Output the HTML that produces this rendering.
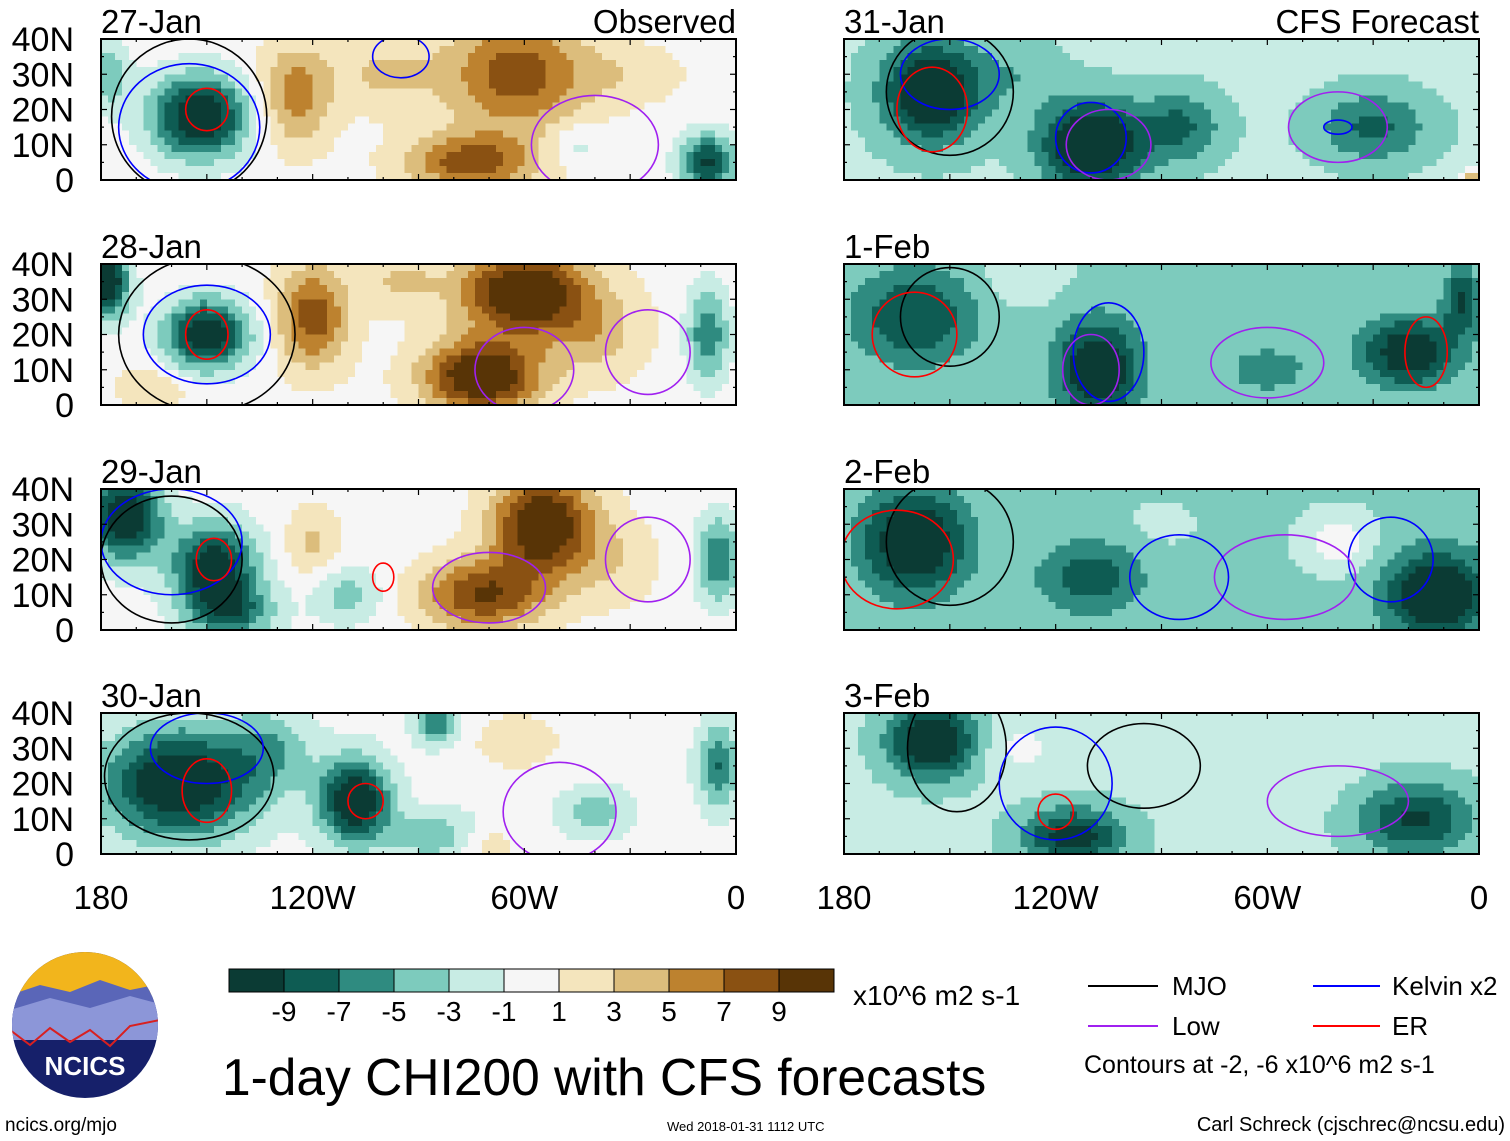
<!DOCTYPE html>
<html><head><meta charset="utf-8">
<style>
body{margin:0;background:#fff;}
svg{display:block;font-family:"Liberation Sans",sans-serif;}
</style></head>
<body>
<svg id="fig" width="1510" height="1141" viewBox="0 0 1510 1141">
<g id="panels"></g>
<g id="bottom">
  <g>
    <defs><clipPath id="lc"><circle cx="85" cy="1025" r="73"/></clipPath></defs>
    <circle cx="85" cy="1025" r="73" fill="#16206a"/>
    <g clip-path="url(#lc)">
      <rect x="10" y="950" width="150" height="45" fill="#f2b51c"/>
      <path d="M10 995 L40 985 L70 992 L100 980 L130 990 L160 984 L160 1030 L10 1030Z" fill="#5a66b8"/>
      <path d="M10 1010 L50 998 L90 1008 L130 996 L160 1004 L160 1040 L10 1040Z" fill="#8c96d8"/>
      <path d="M10 1030 L30 1045 L50 1028 L70 1042 L90 1030 L110 1046 L130 1026 L160 1020" fill="none" stroke="#d82020" stroke-width="2"/>
    </g>
    <text x="85" y="1075" font-size="26" font-weight="bold" fill="#fff" text-anchor="middle">NCICS</text>
  </g>
  <text x="5" y="1131" font-size="19">ncics.org/mjo</text>
  <g id="cbar"></g>
  <text x="853" y="1005" font-size="28">x10^6 m2 s-1</text>
  <text x="222" y="1095" font-size="51.5">1-day CHI200 with CFS forecasts</text>
  <g>
    <line x1="1088" y1="986" x2="1158" y2="986" stroke="#000" stroke-width="2"/>
    <text x="1172" y="995" font-size="26">MJO</text>
    <line x1="1313" y1="986" x2="1380" y2="986" stroke="#0000ff" stroke-width="2"/>
    <text x="1392" y="995" font-size="26">Kelvin x2</text>
    <line x1="1088" y1="1026" x2="1158" y2="1026" stroke="#a020f0" stroke-width="2"/>
    <text x="1172" y="1035" font-size="26">Low</text>
    <line x1="1313" y1="1026" x2="1380" y2="1026" stroke="#ff0000" stroke-width="2"/>
    <text x="1392" y="1035" font-size="26">ER</text>
    <text x="1084" y="1073" font-size="25">Contours at -2, -6 x10^6 m2 s-1</text>
  </g>
  <text x="667" y="1131" font-size="13">Wed 2018-01-31 1112 UTC</text>
  <text x="1505" y="1131" font-size="20" text-anchor="end">Carl Schreck (cjschrec@ncsu.edu)</text>
</g>
</svg>
<script>
const levels = [-9,-7,-5,-3,-1,1,3,5,7,9];
const colors = ["#0b3b34","#0e5c53","#2f8b80","#7dcbbd","#c8ece4","#f6f6f6","#f4e5bd","#dcbd7c","#bd822f","#8a5112","#583406"];
const panelDates = ["27-Jan","28-Jan","29-Jan","30-Jan","31-Jan","1-Feb","2-Feb","3-Feb"];
const baselines = [0.3,0.3,0,0,-2.5,-3,-3.5,-2.5];
// blobs: [lonW, latN, amplitude, radiusLon, radiusLat]
const blobs0 = [[152,18,-12,14,12],[178,30,-5,6,10],[125,24,6,10,14],[62,30,8,20,16],[75,5,8,18,8],[100,30,3,15,10],[8,5,-10,8,8],[45,10,-2.5,8,6],[30,30,2,15,8]];
const blobs1 = [[178,35,-12,6,10],[150,20,-12,12,10],[120,25,8,10,14],[60,32,12,18,12],[72,8,12,16,10],[40,20,3.5,14,12],[8,20,-7,6,14],[165,5,2.5,10,6],[95,35,3,10,8]];
const blobs2 = [[173,32,-12,10,12],[148,18,-11,12,12],[143,5,-7,12,8],[55,30,12,14,14],[72,10,9,18,10],[120,25,3.5,8,10],[5,20,-7,6,12],[110,10,-4,10,8],[35,20,2.5,14,14]];
const blobs3 = [[158,20,-12,22,16],[108,15,-12,10,12],[85,5,-5,12,7],[72,3,2.5,10,5],[62,32,2.5,12,8],[85,37,-7,6,6],[40,12,-4.5,10,7],[5,25,-7,6,12],[132,30,-4,12,12]];
const blobs4 = [[155,25,-10,14,14],[110,10,-11,14,12],[85,15,-5,12,10],[30,15,-5,16,10],[2,0,8,3,3],[130,30,-2,12,10]];
const blobs5 = [[160,25,-6,18,14],[108,10,-9,12,14],[20,15,-8,14,10],[60,10,-3,14,8],[5,30,-6,5,10],[130,35,2,10,6]];
const blobs6 = [[160,25,-9,14,14],[110,15,-5,14,10],[12,10,-9,14,12],[40,25,4,10,8],[90,30,1,12,8]];
const blobs7 = [[155,32,-10,12,10],[115,5,-8,14,8],[18,10,-7,16,10],[130,30,2,12,8],[50,25,1,12,10]];
const allBlobs = [blobs0,blobs1,blobs2,blobs3,blobs4,blobs5,blobs6,blobs7];
// contours: [type, lonW, latN, radiusLon, radiusLat]
const contours0 = [["mjo",155,18,22,22],["k",155,15,20,18],["er",150,20,6,6],["low",40,10,18,14],["k",95,35,8,6]];
const contours1 = [["mjo",150,20,25,22],["k",150,20,18,14],["er",150,20,6,7],["low",60,10,14,12],["low",25,15,12,12]];
const contours2 = [["mjo",160,20,20,18],["k",160,25,20,15],["er",148,20,5,6],["er",100,15,3,4],["low",70,12,16,10],["low",25,20,12,12]];
const contours3 = [["mjo",155,22,24,18],["k",150,30,16,10],["er",150,18,7,9],["er",105,15,5,5],["low",50,12,16,14]];
const contours4 = [["mjo",150,25,18,18],["k",150,30,14,10],["er",155,20,10,12],["k",110,12,10,10],["low",105,10,12,10],["k",40,15,4,2],["low",40,15,14,10]];
const contours5 = [["mjo",150,25,14,14],["er",160,20,12,12],["k",105,15,10,14],["low",110,10,8,10],["low",60,12,16,10],["er",15,15,6,10]];
const contours6 = [["mjo",150,25,18,18],["er",165,20,16,14],["k",25,20,12,12],["low",55,15,20,12],["k",85,15,14,12]];
const contours7 = [["mjo",148,30,14,18],["er",120,12,5,5],["low",40,15,20,10],["mjo",95,25,16,12],["k",120,20,16,16]];
const allContours = [contours0,contours1,contours2,contours3,contours4,contours5,contours6,contours7];
const latTicks = ["0","10N","20N","30N","40N"];
const lonTicks = ["180","120W","60W","0"];

const NS = "http://www.w3.org/2000/svg";
function mk(tag, attrs, parent){const e=document.createElementNS(NS,tag);for(const k in attrs)e.setAttribute(k,attrs[k]);parent.appendChild(e);return e;}
const panelsG = document.getElementById("panels");
const W = 635, H = 141;
const rowsY = [39,264,489,713];
function colorFor(v){let i=0;while(i<levels.length && v>=levels[i])i++;return colors[i];}
const cstroke = {mjo:"#000",k:"#0000ff",low:"#a020f0",er:"#ff0000"};

for(let p=0;p<8;p++){
  const x0 = p<4?101:844, y0 = rowsY[p%4];
  const xs = lon => x0 + (180-lon)/180*W;
  const ys = lat => y0 + H - lat/40*H;
  const g = mk("g",{},panelsG);
  
  
  const clipId="pc"+p;
  const cp=mk("clipPath",{id:clipId},g); mk("rect",{x:x0,y:y0,width:W,height:H},cp);
  const cells = mk("g",{"clip-path":"url(#"+clipId+")","shape-rendering":"crispEdges"},g);
  
  
  const bl = allBlobs[p];
  for(let lon=180;lon>0;lon-=2){
    for(let lat=40;lat>0;lat-=2){
      const cl=lon-1, ct=lat-1;
      let v=baselines[p];
      for(const b of bl){const dx=(cl-b[0])/b[3],dy=(ct-b[1])/b[4];v+=b[2]*Math.exp(-(dx*dx+dy*dy));}
      const r=mk("rect",{x:xs(lon),y:ys(lat),width:(xs(lon-2)-xs(lon))+0.6,height:(ys(lat-2)-ys(lat))+0.6,fill:colorFor(v)},cells);
      
      
    }
  }
  const cg = mk("g",{"clip-path":"url(#"+clipId+")",fill:"none","stroke-width":1.6},g);
  for(const c of allContours[p]){
    const e=mk("ellipse",{cx:xs(c[1]),cy:ys(c[2]),rx:c[3]/180*W,ry:c[4]/40*H,stroke:cstroke[c[0]]},cg);
    
    
  }
  const fr=mk("rect",{x:x0,y:y0,width:W,height:H,fill:"none",stroke:"#000","stroke-width":2},g);
  
  
  for(let lon=180;lon>=0;lon-=10){
    const big = lon%30===0, len=big?6:3;
    mk("line",{x1:xs(lon),x2:xs(lon),y1:y0,y2:y0+len,stroke:"#000","stroke-width":1.2},g);
    mk("line",{x1:xs(lon),x2:xs(lon),y1:y0+H,y2:y0+H-len,stroke:"#000","stroke-width":1.2},g);
  }
  for(let lat=0;lat<=40;lat+=5){
    const len = lat%10===0?6:3;
    mk("line",{x1:x0,x2:x0+len,y1:ys(lat),y2:ys(lat),stroke:"#000","stroke-width":1.2},g);
    mk("line",{x1:x0+W,x2:x0+W-len,y1:ys(lat),y2:ys(lat),stroke:"#000","stroke-width":1.2},g);
  }
  const t=mk("text",{x:x0,y:y0-6,"font-size":33},g); t.textContent=panelDates[p];
  
  
  if(p===0||p===4){
    const t2=mk("text",{x:x0+W,y:y0-6,"font-size":33,"text-anchor":"end"},g);
    t2.textContent = p===0?"Observed":"CFS Forecast";
    
    
  }
  if(p<4){
    latTicks.forEach((lab,i)=>{
      const lt=mk("text",{x:74,y:ys(i*10)+12,"font-size":34,"text-anchor":"end"},g); lt.textContent=lab;
      
      
    });
  }
  if(p%4===3){
    lonTicks.forEach((lab,i)=>{
      const lx=mk("text",{x:xs(180-i*60),y:909,"font-size":33,"text-anchor":"middle"},g); lx.textContent=lab;
      
      
    });
  }
}
const cb=document.getElementById("cbar");
const cbx=229, cbw=55, cby=969, cbh=23;
colors.forEach((c,i)=>{
  const r=mk("rect",{x:cbx+i*cbw,y:cby,width:cbw,height:cbh,fill:c,stroke:"#000","stroke-width":1},cb);
  
  
});
levels.forEach((l,i)=>{
  const t=mk("text",{x:cbx+(i+1)*cbw,y:1021,"font-size":28,"text-anchor":"middle"},cb); t.textContent=String(l);
  
  
});
</script>
</body></html>
